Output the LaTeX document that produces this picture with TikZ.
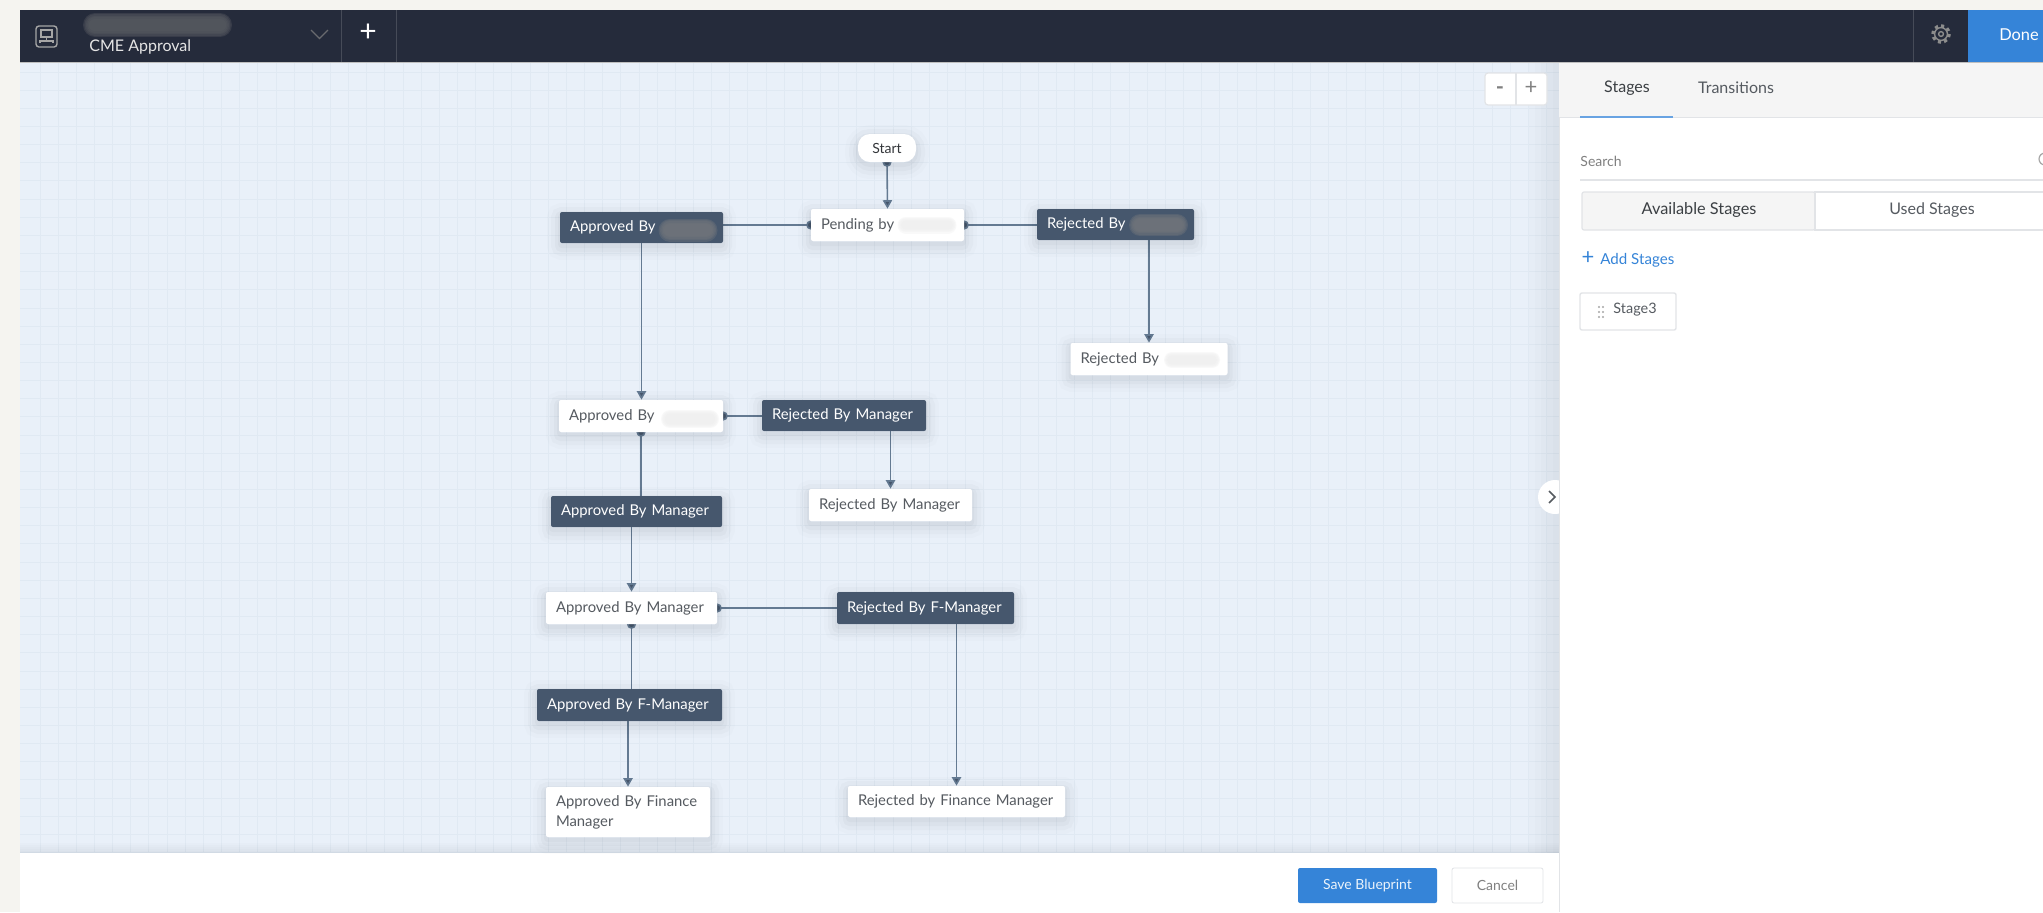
\documentclass[tikz,border=0pt]{standalone}
\usepackage{fontspec}
\setmainfont{Lato}
\usetikzlibrary{arrows.meta,backgrounds}
\pgfdeclarelayer{links}
\pgfsetlayers{background,links,main}
\definecolor{pagebg}{HTML}{F5F4F0}
\definecolor{barbg}{HTML}{252B3B}
\definecolor{canvasbg}{HTML}{E9F0F9}
\definecolor{gridc}{HTML}{E0E9F3}
\definecolor{darkbox}{HTML}{46576D}
\definecolor{linkc}{HTML}{647A92}
\definecolor{blueb}{HTML}{3584D8}
\definecolor{txt}{HTML}{555A60}
\definecolor{panelgrey}{HTML}{F5F5F5}
\definecolor{edge}{HTML}{E2E4E7}
\newcommand\smudge[5]{% x1 x2 y height colour
  \foreach \k in {1,.88,.76,.64,.52}
    \draw[#5,draw opacity=.38,line width=\k*#4*.5pt,line cap=round] (#1,#3) -- (#2,#3);}
\tikzset{
  x=.5pt,y=-.5pt,
  softshadow/.style={
    preaction={draw=black,draw opacity=.012,line width=13pt,transform canvas={yshift=-2pt}},
    preaction={draw=black,draw opacity=.018,line width=9pt,transform canvas={yshift=-2pt}},
    preaction={draw=black,draw opacity=.022,line width=5pt,transform canvas={yshift=-2pt}},
    preaction={draw=black,draw opacity=.025,line width=2pt,transform canvas={yshift=-1.5pt}}},
  stagebase/.style={font=\fontsize{7.42}{10}\selectfont,rounded corners=1pt,inner xsep=5pt,inner ysep=0pt,align=left,softshadow},
  lightbox/.style={stagebase,fill=white,text=txt},
  darkbox/.style={stagebase,fill=darkbox,text=white},
  link/.style={draw=linkc,line width=.8pt},
  tohead/.style={-{Triangle[length=4.2pt,width=4.6pt,fill=darkbox]}},
  dothead/.style={-{Circle[length=4.5pt,width=4.5pt,fill=darkbox]},shorten >=-2.3pt},
  dottail/.style={{Circle[length=4.5pt,width=4.5pt,fill=darkbox]}-,shorten <=-2.3pt},
  dotboth/.style={{Circle[length=4.5pt,width=4.5pt,fill=darkbox]}-{Triangle[length=4.2pt,width=4.6pt,fill=darkbox]},shorten <=-2.3pt},
  uitext/.style={font=\fontsize{8}{10}\selectfont,text=#1,inner sep=0pt},
  uitext/.default=txt,
}
\begin{document}
\begin{tikzpicture}
\lefthyphenmin=64 \righthyphenmin=64
\useasboundingbox (0,0) rectangle (2043,912);
\begin{pgfonlayer}{background}
\fill[pagebg] (0,0) rectangle (2043,912);
% canvas and grid
\fill[canvasbg] (20,62) rectangle (1559,853);
\foreach \i in {0,...,83} \draw[gridc,line width=.45pt] ({40+18.15*\i},62) -- ({40+18.15*\i},853);
\foreach \i in {0,...,43} \draw[gridc,line width=.45pt] (20,{72+18.15*\i}) -- (1559,{72+18.15*\i});
\foreach \k in {6,12,...,30} \fill[black,opacity=.012] ({1559-\k},62) rectangle (1559,853);
\foreach \k in {2,4,...,10} \fill[black,opacity=.012] (20,{853-\k}) rectangle (1559,853);
\end{pgfonlayer}
\begin{scope}
\clip (0,0) rectangle (2043,912);
% bottom bar, right panel
\fill[white] (20,853) rectangle (1559,912);
\fill[white] (1555,497) circle[radius=17];
\fill[white] (1559,62) rectangle (2043,912);
\draw[edge,line width=.5pt] (1559,117) -- (1559,912);
\fill[panelgrey] (1559,62) rectangle (2043,117);
\draw[edge,line width=.5pt] (1559,117) -- (2043,117);
% top bar
\fill[barbg] (20,10) rectangle (2043,62);
\draw[black!25,line width=.5pt] (20,62.5) -- (2043,62.5);
\draw[barbg!85!white,line width=.5pt] (341,10) -- (341,62) (396,10) -- (396,62) (1913,10) -- (1913,62);
\fill[blueb] (1968,10) rectangle (2043,62);
\draw[gray!70!white,line width=.7pt,rounded corners=1.5pt] (36,26) rectangle (57,47);
\draw[gray!70!white,line width=.6pt] (41,30) rectangle (52,37) (46.5,37) -- (46.5,41) (40,43) -- (40,41) -- (53,41) -- (53,43);
\smudge{95}{220}{25}{24}{gray!55!barbg}
\node[uitext=white!90!black,anchor=west,font=\fontsize{8}{10}\selectfont] (title) at (89,47) {CME Approval};
\draw[gray!75!barbg,line width=.6pt] (311,30) -- (319.5,38.5) -- (328,30);
\node[uitext=white,font=\fontsize{15}{15}\selectfont] (addflow) at (368,33) {+};
\draw[gray!90!white,line width=.7pt] (1941,34) circle[radius=2.4];
\draw[gray!90!white,line width=.7pt] (1941,34) circle[radius=6.4];
\draw[gray!90!white,line width=1.6pt,dash pattern=on 1.6pt off 1.6pt] (1941,34) circle[radius=8.2];
\node[uitext=white,font=\fontsize{8.2}{10}\selectfont] (done) at (2019,35) {Done};
% zoom buttons
\draw[edge,fill=white,rounded corners=1.5pt,line width=.6pt] (1485,73) rectangle (1547,105);
\draw[edge,line width=.6pt] (1516,73) -- (1516,105);
\node[uitext=gray,font=\fontsize{11}{11}\selectfont\bfseries] (zminus) at (1500,91) {-};
\node[uitext=gray,font=\fontsize{11}{11}\selectfont] (zplus) at (1531,88) {+};
% collapse chevron
\draw[txt,line width=.8pt] (1549,491) -- (1555,497) -- (1549,503);
% right panel content
\node[uitext=txt!70!black] (tabstages) at (1627,88) {Stages};
\node[uitext] (tabtrans) at (1736,88) {Transitions};
\draw[blueb!75!white,line width=1pt] (1580,116.5) -- (1673,116.5);
\node[uitext=gray,anchor=west,font=\fontsize{7}{10}\selectfont] (search) at (1580,161) {Search};
\draw[gray!70,line width=.6pt] (2045,159) circle[radius=6];
\draw[edge,line width=.7pt] (1580,180) -- (2043,180);
\draw[edge,fill=panelgrey,rounded corners=1pt,line width=.6pt] (1582,192) rectangle (1815,230);
\draw[edge,fill=white,line width=.6pt] (1815,192) rectangle (2050,230);
\node[uitext=txt!70!black,font=\fontsize{8.15}{10}\selectfont] (avail) at (1699,210) {Available Stages};
\node[uitext] (used) at (1932,210) {Used Stages};
\node[uitext=blueb,font=\fontsize{11}{11}\selectfont] (addplus) at (1588,258) {+};
\node[uitext=blueb,anchor=west,font=\fontsize{7.55}{10}\selectfont] (addst) at (1600,260) {Add Stages};
\draw[edge,fill=white,rounded corners=1pt,line width=.7pt] (1580,293) rectangle (1676,330);
\foreach \dx in {-2,2} \foreach \dy in {-5,0,5} \fill[gray!70] ({1601+\dx},{312+\dy}) circle[radius=1.2];
\node[uitext,font=\fontsize{7.2}{10}\selectfont] (stage3) at (1635,310) {Stage3};
% bottom buttons
\node[fill=blueb,rounded corners=1pt,minimum width=69.5pt,minimum height=17.5pt,inner sep=0pt,text=white!90!blueb,font=\fontsize{7}{10}\selectfont] (save) at (1367.5,885.5) {Save Blueprint};
\node[draw=edge,fill=white,rounded corners=1pt,minimum width=45.5pt,minimum height=17.5pt,inner sep=0pt,text=gray,font=\fontsize{7}{10}\selectfont] (cancel) at (1497.5,885.5) {Cancel};
\end{scope}
% stage nodes
\node[lightbox,rounded corners=6pt,inner xsep=0pt,align=center,minimum width=29pt,minimum height=14pt,text=txt!60!black,font=\fontsize{7}{10}\selectfont] (start) at (887,148) {Start};
\node[lightbox,text width=66.5pt,minimum height=16pt] (pend) at (887.5,225) {Pending by};
\node[darkbox,text width=71.5pt,minimum height=15.5pt] (appA) at (641.5,227.5) {Approved By};
\node[darkbox,text width=68.5pt,minimum height=15.5pt] (rejA) at (1115.5,224.5) {Rejected By};
\node[lightbox,text width=68.5pt,minimum height=16pt] (rejB) at (1149,359) {Rejected By};
\node[lightbox,text width=72pt,minimum height=16pt] (appW) at (641,416) {Approved By};
\node[darkbox,text width=72pt,minimum height=15.5pt] (rejMD) at (844,415.5) {Rejected By Manager};
\node[lightbox,text width=71.5pt,minimum height=16pt] (rejMW) at (890.5,505) {Rejected By Manager};
\node[darkbox,text width=75.5pt,minimum height=15.5pt] (appMD) at (636.5,511.5) {Approved By Manager};
\node[lightbox,text width=75.5pt,minimum height=16pt] (appMW) at (631.5,608) {Approved By Manager};
\node[darkbox,text width=78.5pt,minimum height=16pt] (rejFD) at (925.5,608) {Rejected By F-Manager};
\node[darkbox,text width=82.5pt,minimum height=16pt] (appFD) at (629.5,705) {Approved By F-Manager};
\node[lightbox,text width=72pt,minimum height=25pt] (appFin) at (628,812) {Approved By Finance\\Manager};
\node[lightbox,text width=98.5pt,minimum height=15.5pt] (rejFin) at (956.5,801.5) {Rejected by Finance Manager};
% redactions
\smudge{670}{706}{230}{23}{gray!75!darkbox}
\smudge{1140}{1177}{225}{22}{gray!75!darkbox}
\smudge{906}{948}{225}{17}{black!6}
\smudge{1172}{1212}{360}{16}{black!6}
\smudge{670}{710}{419}{18}{black!6}
% connectors
\begin{pgfonlayer}{links}
\draw[link,dotboth] (start.south) -- (pend.north);
\draw[link,dothead] (pend.west -| appA.east) -- (pend.west);
\draw[link,dothead] (pend.east -| rejA.west) -- (pend.east);
\draw[link,tohead] (rejB.north |- rejA.south) -- (rejB.north);
\draw[link,tohead] (appA.south) -- (appA.south |- appW.north);
\draw[link,dothead] (appW.east -| rejMD.west) -- (appW.east);
\draw[link,tohead] (rejMW.north |- rejMD.south) -- (rejMW.north);
\draw[link,dottail] (appW.south) -- (appW.south |- appMD.north);
\draw[link,tohead] (appMW.north |- appMD.south) -- (appMW.north);
\draw[link,dothead] (rejFD.west) -- (appMW.east);
\draw[link,dottail] (appMW.south) -- (appMW.south |- appFD.north);
\draw[link,tohead] (appFin.north |- appFD.south) -- (appFin.north);
\draw[link,tohead] (rejFin.north |- rejFD.south) -- (rejFin.north);
\end{pgfonlayer}
\end{tikzpicture}
\end{document}
